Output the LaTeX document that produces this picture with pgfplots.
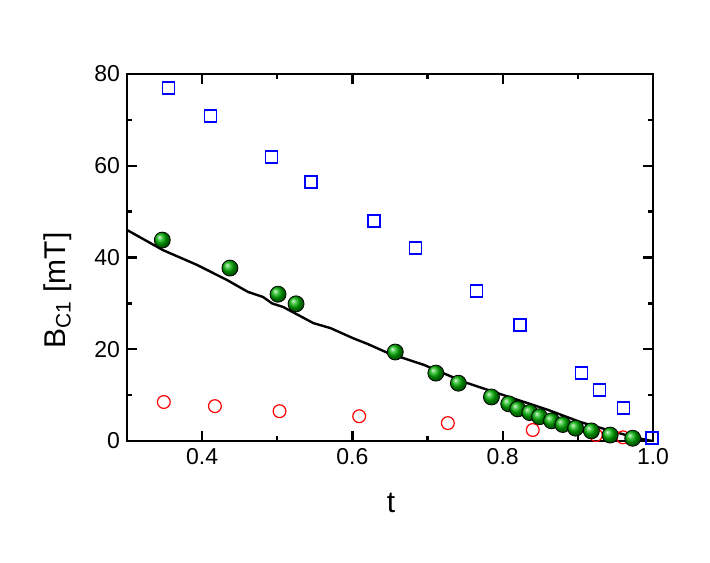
\documentclass[border=0pt]{standalone}
\usepackage{fontspec}
\setmainfont{Liberation Sans}
\usepackage{pgfplots}
\pgfplotsset{compat=1.18}
\begin{document}
\begin{tikzpicture}
\useasboundingbox (-63.5pt,-60.5pt) rectangle (291.5pt,220.5pt);
\begin{axis}[at={(0,0)},anchor=south west,scale only axis,width=263pt,height=183.5pt,
 xmin=0.3,xmax=1.0,ymin=0,ymax=80,
 xtick={0.4,0.6,0.8,1.0},ytick={0,20,40,60,80},minor x tick num=1,minor y tick num=1,
 tick align=inside,major tick length=5pt,minor tick length=2.5pt,
 axis line style={line width=1.2pt},every tick/.style={line width=1.2pt,black},
 tick label style={font=\fontsize{11.5}{13}\selectfont},
 /pgf/number format/assume math mode=true,
 xticklabel style={/pgf/number format/fixed,/pgf/number format/fixed zerofill,/pgf/number format/precision=1},
 xlabel={t},ylabel={B$_{\mathrm{C1}}$ [mT]},
 label style={font=\fontsize{15}{18}\selectfont},
 xlabel style={at={(axis description cs:0.502,-0.169)},anchor=center},
 ylabel style={at={(axis description cs:-0.131,0.41)},anchor=center,rotate=0},
 clip=false]
\addplot[only marks,mark=square,mark size=3pt,color=blue,mark options={solid,line width=0.75pt}] coordinates {
(0.355,77.0)(0.411,70.8)(0.492,61.9)(0.545,56.5)(0.629,48.0)(0.684,42.1)
(0.765,32.7)(0.823,25.3)(0.905,14.8)(0.929,11.1)(0.961,7.2)(0.999,0.65)};
\addplot[only marks,mark=o,mark size=3.2pt,color=red,mark options={solid,line width=0.6pt}] coordinates {
(0.349,8.5)(0.417,7.6)(0.503,6.5)(0.609,5.4)(0.727,3.9)(0.840,2.4)(0.924,1.3)(0.960,0.8)};
\addplot[black,line width=1.2pt,no marks] coordinates {
(0.300,46.0)(0.348,41.6)(0.393,38.4)(0.433,35.1)(0.461,32.5)(0.481,31.4)(0.493,30.0)
(0.508,29.2)(0.548,25.7)(0.571,24.6)(0.601,22.4)(0.621,21.1)(0.647,19.2)(0.695,16.6)
(0.748,12.9)(0.801,10.0)(0.860,6.8)(0.904,4.1)(0.940,2.4)(0.975,0.8)(0.999,0.0)};
\addplot[only marks,mark=ball,mark size=4pt,mark options={ball color=green!70!black}] coordinates {
(0.347,43.8)(0.437,37.7)(0.501,32.0)(0.525,29.9)(0.657,19.4)(0.711,14.8)(0.741,12.6)
(0.785,9.6)(0.808,8.1)(0.820,7.0)(0.836,6.2)(0.849,5.3)(0.865,4.4)(0.880,3.6)
(0.897,2.8)(0.918,2.2)(0.943,1.3)(0.973,0.6)};
\end{axis}
\end{tikzpicture}
\end{document}
